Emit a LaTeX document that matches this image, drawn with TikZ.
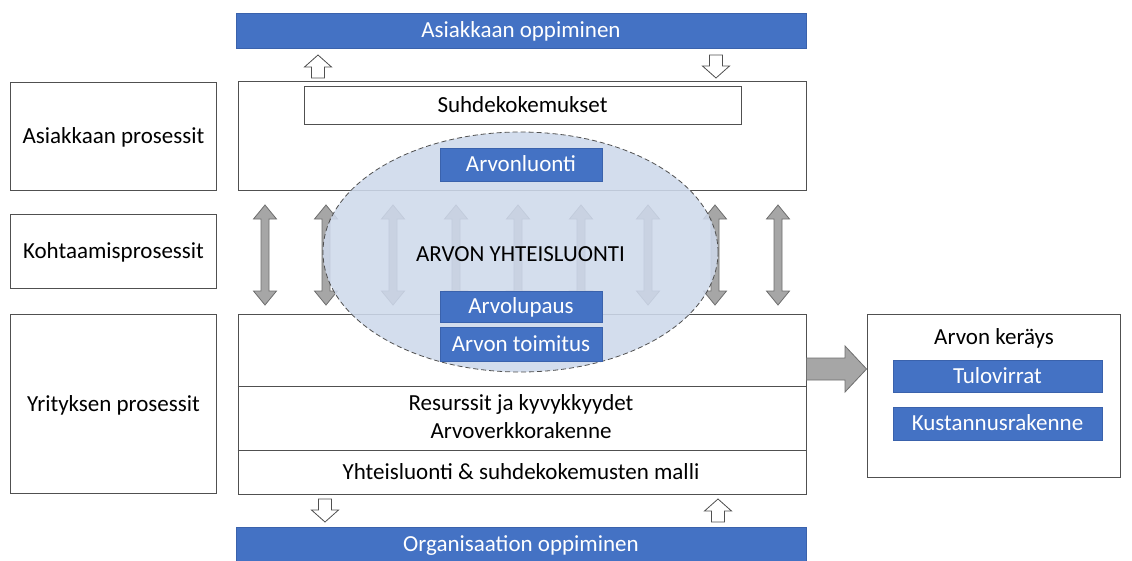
\documentclass[tikz,border=0pt]{standalone}
\usepackage{fontspec}
\setmainfont{Carlito}
\usetikzlibrary{calc,shapes.geometric}

\definecolor{officeblue}{HTML}{4472C4}
\definecolor{blueedge}{HTML}{3A62AC}
\definecolor{boxline}{HTML}{505050}
\definecolor{arrowfill}{HTML}{A6A6A6}
\definecolor{arrowline}{HTML}{6E6E6E}
\definecolor{cocreate}{RGB}{206,217,235}

\tikzset{
  every node/.style={font=\fontsize{23}{28}\selectfont, inner sep=0pt,
    text height=19pt, text depth=5pt},
  frame/.style={draw=boxline, line width=0.9pt, fill=white},
  bluebar/.style={fill=officeblue, draw=blueedge, line width=0.5pt, text=white},
  blockarrow/.style={fill=arrowfill, draw=arrowline, line width=0.8pt, line join=miter},
  hollowarrow/.style={fill=white, draw=boxline, line width=0.8pt, line join=miter},
  % vertical double-headed block arrow, tip at the origin, pointing up and down
  pics/vdarrow/.style={code={
    \path[pic actions] (0,0) -- (11.5,14) -- (4,14) -- (4,86) -- (11.5,86) -- (0,100)
      -- (-11.5,86) -- (-4,86) -- (-4,14) -- (-11.5,14) -- cycle;}},
  % small outlined arrows, origin at the top centre
  pics/uparrow/.style={code={
    \path[pic actions] (0,0) -- (13.5,12) -- (6.5,12) -- (6.5,23) -- (-6.5,23)
      -- (-6.5,12) -- (-13.5,12) -- cycle;}},
  pics/downarrow/.style={code={
    \path[pic actions] (0,23) -- (13.5,11) -- (6.5,11) -- (6.5,0) -- (-6.5,0)
      -- (-6.5,11) -- (-13.5,11) -- cycle;}},
}

\begin{document}
\begin{tikzpicture}[x=1pt, y=-1pt]
\useasboundingbox (0,0) rectangle (1132,560);

% left column labels
\node[frame, minimum width=206, minimum height=108] (lcust) at (113.5,136) {Asiakkaan prosessit};
\node[frame, minimum width=206, minimum height=74]  (lmeet) at (113.5,251) {Kohtaamisprosessit};
\node[frame, minimum width=206, minimum height=179] (lfirm) at (113.5,404) {Yrityksen prosessit};

% learning bars
\node[bluebar, minimum width=570, minimum height=35] (custlearn) at (521,30.5) {Asiakkaan oppiminen};
\node[bluebar, minimum width=570, minimum height=35] (orglearn)  at (521,544.5) {Organisaation oppiminen};

% customer processes
\node[frame, minimum width=568, minimum height=109] (cust) at (522,136) {};
\node[frame, minimum width=437, minimum height=38] (rel) at (522.5,105) {Suhdekokemukset};

% company processes, three stacked parts
\node[frame, minimum width=568, minimum height=180] (firm) at (522,404) {};
\draw[boxline, line width=0.9pt] (firm.west |- 0,386) coordinate (s1w) -- (firm.east |- 0,386) coordinate (s1e);
\draw[boxline, line width=0.9pt] (firm.west |- 0,450) coordinate (s2w) -- (firm.east |- 0,450) coordinate (s2e);
\node[align=center, text height=, text depth=] (res) at (521,416.5) {Resurssit ja kyvykkyydet\\Arvoverkkorakenne};
\node (model) at (521,472) {Yhteisluonti \& suhdekokemusten malli};

% value capture
\node[frame, minimum width=253, minimum height=163] (capture) at (993.5,395.5) {};
\node (captitle) at (994,337) {Arvon keräys};
\node[bluebar, minimum width=209, minimum height=32] (revenue) at (997.5,376) {Tulovirrat};
\node[bluebar, minimum width=209, minimum height=33] (cost) at (997.5,423.5) {Kustannusrakenne};

% flow from the company to value capture
\draw[blockarrow] (firm.east |- 0,358) -- (845,358) -- (845,346) -- (capture.west |- 0,369)
  -- (845,392) -- (845,380) -- (firm.east |- 0,380) -- cycle;

% learning loops
\pic[hollowarrow] at (318,55) {uparrow};
\pic[hollowarrow] at (716,55) {downarrow};
\pic[hollowarrow] at (325,499) {downarrow};
\pic[hollowarrow] at (718,499) {uparrow};

% encounters between customer and company
\foreach \x in {265,326,393,456,518,581,648,715,778}
  \pic[blockarrow] at (\x,205) {vdarrow};

% value co-creation area
\node[ellipse, minimum width=395, minimum height=240, fill=cocreate, fill opacity=0.88,
      draw=boxline, dashed, dash pattern=on 5pt off 3pt, line width=0.8pt] (cocre) at (520.5,252) {};
\node (cotitle) at (520.5,254) {ARVON YHTEISLUONTI};

\node[bluebar, minimum width=162, minimum height=33] (create)  at (521,164.5) {Arvonluonti};
\node[bluebar, minimum width=162, minimum height=31] (promise) at (521,306.5) {Arvolupaus};
\node[bluebar, minimum width=162, minimum height=34] (deliver) at (521,344) {Arvon toimitus};
\end{tikzpicture}
\end{document}
